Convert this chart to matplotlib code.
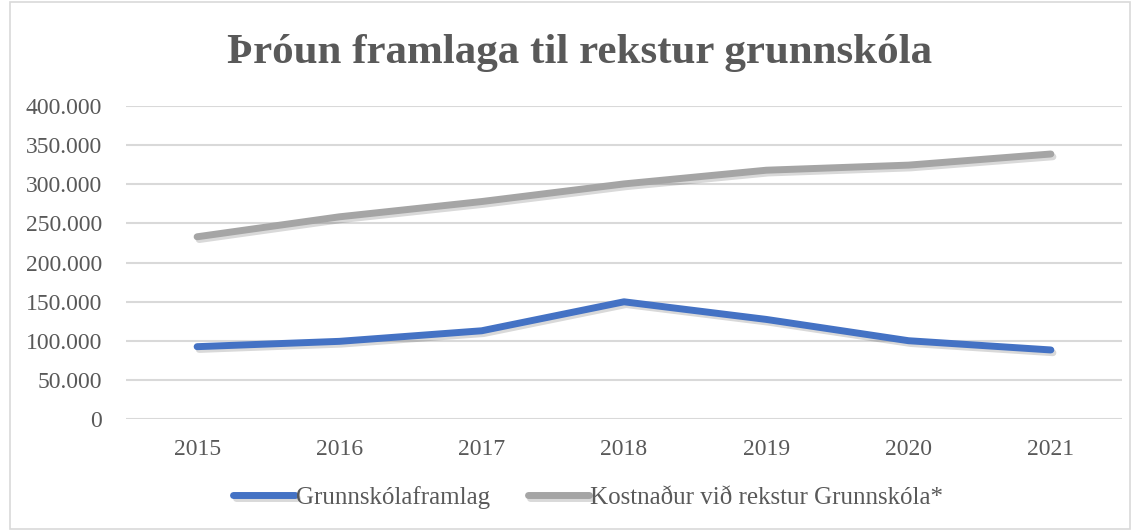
import matplotlib.pyplot as plt
import matplotlib.patches as patches
import matplotlib.patheffects as pe
from matplotlib.ticker import FuncFormatter

years = ['2015', '2016', '2017', '2018', '2019', '2020', '2021']
framlag = [92700, 99500, 113000, 150000, 127500, 100300, 88500]
kostnadur = [233000, 258500, 278000, 300500, 318000, 324500, 338700]
series_names = ['Grunnskólaframlag', 'Kostnaður við rekstur Grunnskóla*']

plt.rcParams['font.family'] = ['Liberation Serif', 'DejaVu Serif']
text_color = '#595959'
grid_color = '#D9D9D9'

fig = plt.figure(figsize=(11.4, 5.31), dpi=100)
ax = fig.add_axes([0.1105, 0.2104, 0.8737, 0.59])

# soft drop shadow like the Excel original
shadow = [pe.SimpleLineShadow(offset=(1.5, -2), alpha=0.15, shadow_color='black'), pe.Normal()]
x = range(len(years))
ax.plot(x, framlag, color='#4472C4', lw=5, solid_capstyle='round',
        solid_joinstyle='round', label=series_names[0], path_effects=shadow, zorder=3)
ax.plot(x, kostnadur, color='#A5A5A5', lw=5, solid_capstyle='round',
        solid_joinstyle='round', label=series_names[1], path_effects=shadow, zorder=3)

ax.set_xlim(-0.5, len(years) - 0.5)
ax.set_ylim(0, 400000)
ax.set_yticks(range(0, 400001, 50000))
ax.yaxis.set_major_formatter(FuncFormatter(lambda v, p: f'{int(v):,}'.replace(',', '.')))
ax.set_xticks(list(x))
ax.set_xticklabels(years)
ax.grid(axis='y', color=grid_color, lw=1.5)
ax.set_axisbelow(True)
for s in ax.spines.values():
    s.set_visible(False)
ax.tick_params(length=0, labelsize=17, colors=text_color, pad=17)
ax.tick_params(axis='x', pad=14)

fig.text(0.508, 0.900, 'Þróun framlaga til rekstur grunnskóla', ha='center', va='center',
         fontsize=31, fontweight='bold', color=text_color)

fig.legend(loc='center', bbox_to_anchor=(0.516, 0.064), ncol=2, frameon=False,
           fontsize=18, handlelength=2.45, handletextpad=0.05, columnspacing=1.5,
           labelcolor=text_color)

fig.patches.append(patches.Rectangle((10 / 1140, 2 / 531), 1120 / 1140, 527 / 531,
                                     transform=fig.transFigure, fill=False,
                                     edgecolor=grid_color, lw=1.2))

fig.savefig('out.png', dpi=100)
